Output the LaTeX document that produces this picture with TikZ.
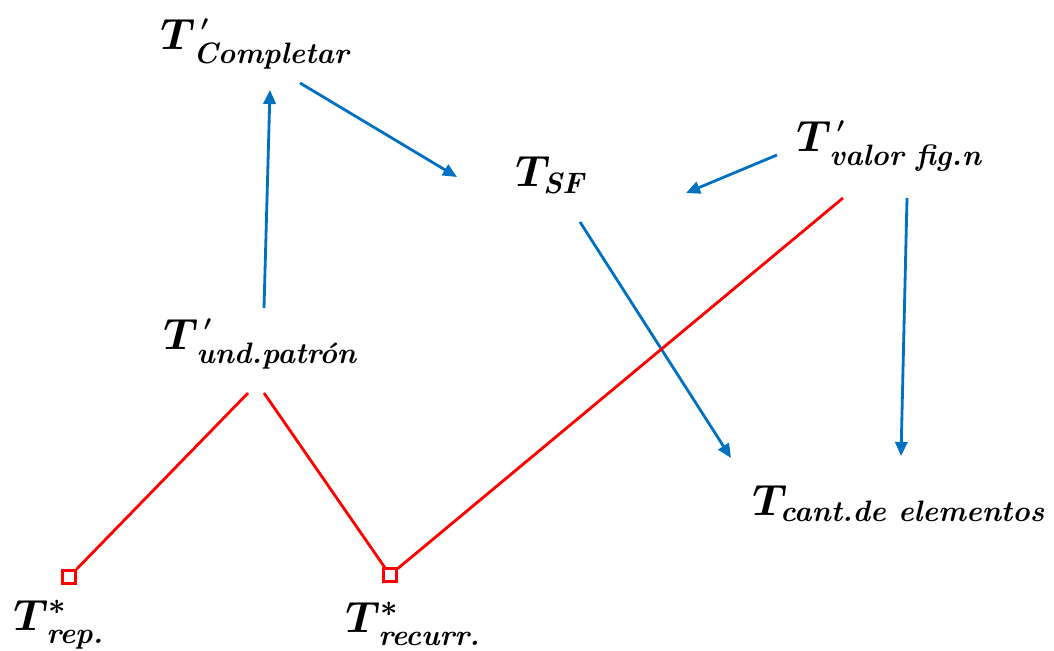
\documentclass[tikz,border=0pt]{standalone}
\usepackage{amsmath}
\usepackage{xcolor}
\usepackage{tikz}
\usetikzlibrary{calc,arrows.meta}
\definecolor{azul}{RGB}{0,112,192}
\newcommand{\prima}{^{\,\raisebox{2pt}{$\scriptscriptstyle\prime$}}}
\newcommand{\sub}[1]{_{\text{\bfseries\itshape\hspace{3pt}#1}}}

\begin{document}
\begin{tikzpicture}[x=0.02cm, y=-0.02cm,
    etiqueta/.style={inner sep=0, anchor=base west, font=\fontsize{24}{28}\selectfont\boldmath},
    cuadro/.style={draw=red, fill=white, line width=1.4pt, minimum size=0.26cm, inner sep=0},
    flecha/.style={-{Triangle[length=8pt, width=7pt]}, draw=azul, line width=1.6pt},
    enlace/.style={draw=red, line width=1.6pt}]
	\useasboundingbox (0,0) rectangle (1054,651);
	\node[etiqueta] (comp) at (160,50) {$T\prima\sub{Completar}$};
	\node[etiqueta] (sf) at (515,187) {$T_{\text{\bfseries\itshape SF}}$};
	\node[etiqueta] (valor) at (796,152) {$T\prima\sub{valor fig.n}$};
	\node[etiqueta] (und) at (163,350) {$T\prima\sub{und.patrón}$};
	\node[etiqueta] (cant) at (752,515) {$T_{\text{\bfseries\itshape cant.de elementos}}$};
	\node[etiqueta] (rep) at (13,630) {$T^{*}\sub{rep.}$};
	\node[etiqueta] (recurr) at (345,632) {$T^{*}\sub{recurr.}$};
	\node[cuadro] (sqrep) at (69,577) {};
	\node[cuadro] (sqrec) at (390,575) {};
	
	\draw[flecha] ($(und.base west)+(101,-42)$) -- ($(comp.base west)+(110,40)$);
	\draw[flecha] ($(comp.base west)+(140,33)$) -- ($(sf.base west)+(-58,-10)$);
	\draw[flecha] ($(valor.base west)+(-19,3)$) -- ($(sf.base west)+(171,6)$);
	\draw[flecha] ($(sf.base west)+(65,35)$) -- ($(cant.base west)+(-21,-57)$);
	\draw[flecha] ($(valor.base west)+(111,46)$) -- ($(cant.base west)+(149,-59)$);
	\draw[enlace] ($(und.base west)+(85,43)$) -- (sqrep);
	\draw[enlace] ($(und.base west)+(101,43)$) -- (sqrec);
	\draw[enlace] (sqrec) -- ($(valor.base west)+(47,46)$);
\end{tikzpicture}
\end{document}
